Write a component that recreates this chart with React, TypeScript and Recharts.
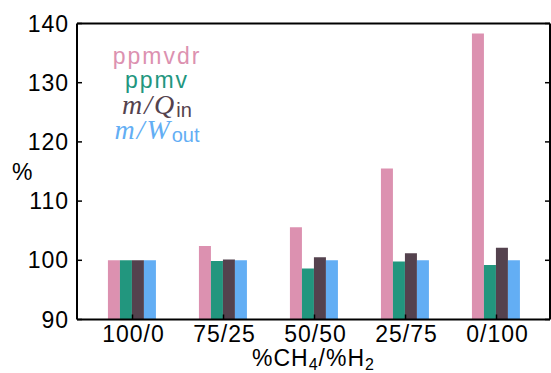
import { Bar, BarChart, Legend, ReferenceLine, XAxis, YAxis } from "recharts";

const CATEGORIES = ["100/0", "75/25", "50/50", "25/75", "0/100"];
const PPMVDR = [100, 102.4, 105.6, 115.5, 138.3];
const PPMV = [100, 99.9, 98.6, 99.8, 99.2];
const M_Q_IN = [100, 100.15, 100.5, 101.2, 102.1];
const M_W_OUT = [100, 100, 100, 100, 100];
const Y_TICKS = [90, 100, 110, 120, 130, 140];

const COLORS = {
  ppmvdr: "#dc91b0",
  ppmv: "#22967e",
  mq: "#54424e",
  mw: "#63aef4",
};

const FONT = '"Liberation Sans", Arial, sans-serif';
const SERIF = '"Liberation Serif", "Times New Roman", serif';

const data = CATEGORIES.map((c, i) => ({
  name: c,
  ppmvdr: PPMVDR[i],
  ppmv: PPMV[i],
  mq: M_Q_IN[i],
  mw: M_W_OUT[i],
}));

function LeftTick({ x, y, payload }: any) {
  return (
    <g>
      <line x1={x + 8} x2={x + 13} y1={y} y2={y} stroke="#000" strokeWidth={1.5} />
      <text
        x={x}
        y={y + 8}
        textAnchor="end"
        fontFamily={FONT}
        fontSize={23}
        letterSpacing={1}
        fill="#000"
      >
        {payload.value}
      </text>
    </g>
  );
}

function RightTick({ x, y }: any) {
  return <line x1={x - 5} x2={x} y1={y} y2={y} stroke="#000" strokeWidth={1.5} />;
}

function BottomTick({ x, y, payload }: any) {
  return (
    <g>
      <line x1={x} x2={x} y1={y - 5} y2={y} stroke="#000" strokeWidth={1.5} />
      <text
        x={x + 1}
        y={y + 22}
        textAnchor="middle"
        fontFamily={FONT}
        fontSize={23}
        letterSpacing={1}
        fill="#000"
      >
        {payload.value}
      </text>
    </g>
  );
}

function XLabel({ viewBox }: any) {
  const { x, y, width, height } = viewBox;
  return (
    <text
      x={x + width / 2}
      y={y + height - 7}
      textAnchor="middle"
      fontFamily={FONT}
      fontSize={23}
      letterSpacing={1}
      fill="#000"
    >
      %CH
      <tspan fontSize={16} dy={4}>4</tspan>
      <tspan dy={-4}>/%H</tspan>
      <tspan fontSize={16} dy={4}>2</tspan>
    </text>
  );
}

function MathEntry({ sym, sub, color }: { sym: string; sub: string; color: string }) {
  return (
    <div style={{ color, height: 25, lineHeight: "25px", letterSpacing: 0, whiteSpace: "nowrap" }}>
      <span style={{ fontFamily: SERIF, fontStyle: "italic", fontSize: 28, letterSpacing: 2 }}>
        m/{sym}
      </span>
      <span style={{ fontSize: 20, position: "relative", top: 3 }}>{sub}</span>
    </div>
  );
}

function LegendText() {
  return (
    <div
      style={{
        fontFamily: FONT,
        fontSize: 23,
        letterSpacing: 2,
        lineHeight: "24px",
        textAlign: "center",
      }}
    >
      <div style={{ color: COLORS.ppmvdr }}>ppmvdr</div>
      <div style={{ color: COLORS.ppmv }}>ppmv</div>
      <MathEntry sym="Q" sub="in" color={COLORS.mq} />
      <MathEntry sym="W" sub="out" color={COLORS.mw} />
    </div>
  );
}

export default function App() {
  return (
    <div style={{ position: "absolute", left: 0, top: 0, background: "#fff" }}>
      <BarChart
        width={551}
        height={373}
        data={data}
        margin={{ top: 23.5, right: 0, bottom: 0, left: 0 }}
        barCategoryGap="23%"
        barGap={0}
      >
        <XAxis
          dataKey="name"
          height={53.5}
          padding={{ left: 10, right: 8 }}
          tickSize={0}
          tickMargin={0}
          tick={<BottomTick />}
          axisLine={{ stroke: "#000", strokeWidth: 2 }}
          tickLine={false}
          interval={0}
          label={<XLabel />}
        />
        <YAxis
          width={77}
          type="number"
          domain={[90, 140]}
          ticks={Y_TICKS}
          allowDataOverflow
          tickSize={0}
          tickMargin={8}
          tick={<LeftTick />}
          tickLine={false}
          axisLine={{ stroke: "#000", strokeWidth: 2 }}
          label={{
            value: "%",
            position: "insideLeft",
            offset: 12,
            angle: 0,
            fontFamily: FONT,
            fontSize: 23,
            fill: "#000",
          }}
        />
        <YAxis
          yAxisId="right"
          orientation="right"
          width={1}
          type="number"
          domain={[90, 140]}
          ticks={Y_TICKS}
          allowDataOverflow
          tickSize={0}
          tickMargin={0}
          tick={<RightTick />}
          tickLine={false}
          axisLine={{ stroke: "#000", strokeWidth: 2 }}
        />
        <ReferenceLine y={140} stroke="#000" strokeWidth={2} />
        <Legend
          layout="horizontal"
          verticalAlign="middle"
          align="center"
          content={<LegendText />}
          wrapperStyle={{ position: "absolute", left: 97, top: 44, width: 120, height: 100 }}
        />
        <Bar dataKey="ppmvdr" fill={COLORS.ppmvdr} isAnimationActive={false} />
        <Bar dataKey="ppmv" fill={COLORS.ppmv} isAnimationActive={false} />
        <Bar dataKey="mq" fill={COLORS.mq} isAnimationActive={false} />
        <Bar dataKey="mw" fill={COLORS.mw} isAnimationActive={false} />
      </BarChart>
    </div>
  );
}
